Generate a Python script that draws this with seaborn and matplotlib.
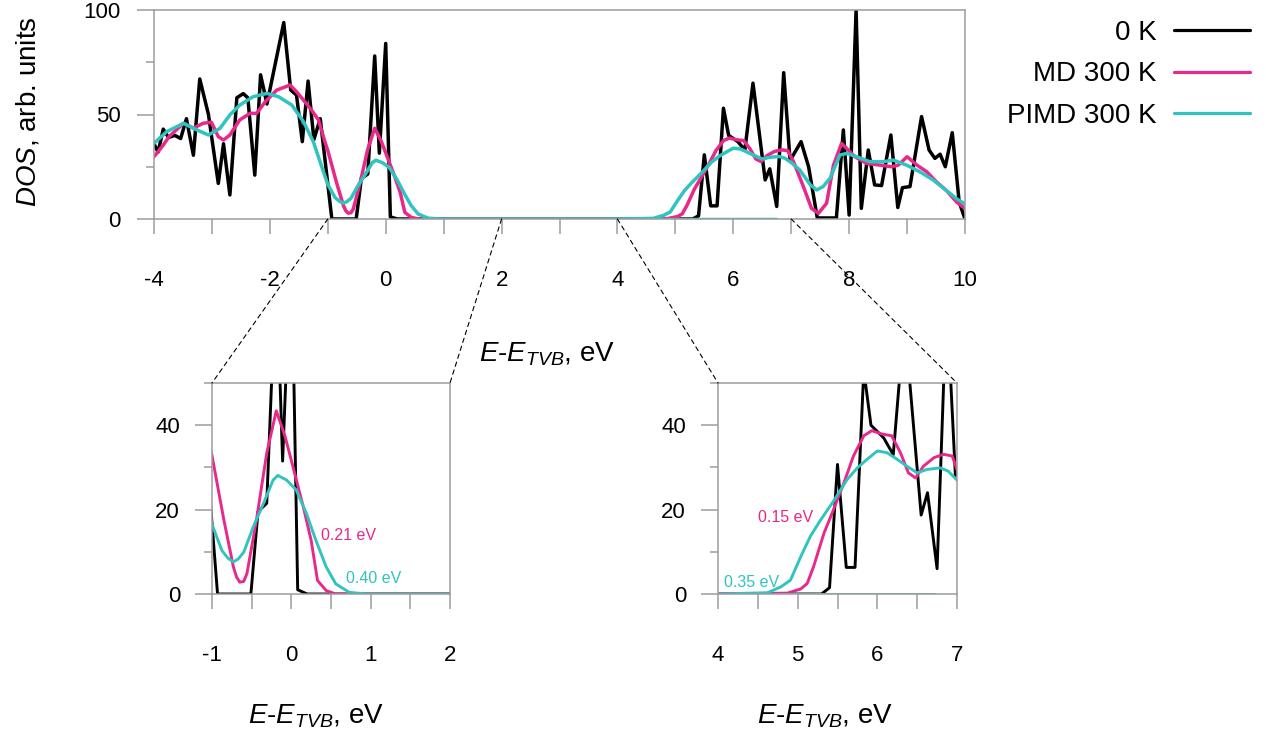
import matplotlib
matplotlib.use("Agg")
import matplotlib.pyplot as plt
import seaborn as sns
from matplotlib.patches import ConnectionPatch
from matplotlib.ticker import MultipleLocator

# ---- density of states, E - E_TVB (eV) vs DOS (arb. units) ----
e_0k = [-4.00, -3.93, -3.84, -3.75, -3.64, -3.54, -3.44, -3.32, -3.21, -3.06,
        -2.89, -2.80, -2.69, -2.57, -2.46, -2.38, -2.26, -2.16, -2.05, -1.76,
        -1.64, -1.54, -1.44, -1.34, -1.24, -1.13, -0.93, -0.51, -0.42, -0.31,
        -0.19, -0.11, 0.00, 0.08, 0.20, 5.30, 5.40, 5.50, 5.61, 5.72,
        5.83, 5.92, 6.08, 6.20, 6.34, 6.55, 6.63, 6.75, 6.87, 6.98,
        7.17, 7.30, 7.45, 7.78, 7.90, 8.00, 8.12, 8.21, 8.33, 8.44,
        8.56, 8.72, 8.84, 8.92, 9.05, 9.25, 9.38, 9.48, 9.57, 9.66,
        9.78, 9.90, 10.00]
dos_0k = [36, 32, 43, 39, 40, 38.5, 48, 30.5, 67, 50,
          17, 36, 11.5, 58, 60, 58, 21, 69, 55, 94,
          61.7, 59.3, 37, 66, 38, 48, 0, 0, 19.5, 21.5,
          78, 31.5, 84, 1, 0, 0, 1.5, 30.7, 6.3, 6.3,
          53, 40, 37, 33, 65, 18.7, 24, 6, 70, 28,
          37, 25, 0.5, 0.5, 42.6, 1.9, 100, 5.1, 33, 16.3,
          16, 40.2, 5.5, 15, 15.5, 49, 33, 29, 31, 25,
          41.3, 8, 0]

e_md = [-4.00, -3.85, -3.74, -3.60, -3.49, -3.32, -3.15, -3.01, -2.89, -2.80,
        -2.69, -2.52, -2.34, -2.23, -2.08, -1.88, -1.65, -1.54, -1.42, -1.28,
        -1.16, -1.05, -1.00, -0.85, -0.73, -0.69, -0.65, -0.60, -0.56, -0.44,
        -0.31, -0.19, -0.08, 0.02, 0.15, 0.25, 0.33, 0.44, 0.56, 1.0,
        2.0, 3.0, 4.0, 4.87, 5.04, 5.12, 5.20, 5.33, 5.45, 5.58,
        5.70, 5.83, 5.93, 6.06, 6.18, 6.29, 6.39, 6.48, 6.58, 6.71,
        6.83, 6.94, 7.04, 7.21, 7.35, 7.47, 7.61, 7.73, 7.87, 8.10,
        8.30, 8.53, 8.73, 8.85, 9.00, 9.17, 9.34, 9.51, 9.68, 9.86,
        10.00]
dos_md = [29.8, 35, 39.4, 43, 45.8, 43.5, 45.8, 46.3, 39.4, 37.8,
          40.2, 47.4, 50.6, 50.5, 56.1, 61.7, 64.1, 60.9, 56.9, 52.1,
          47.4, 37, 32.8, 17.5, 6.4, 4.0, 2.8, 3.0, 4.8, 17.5,
          33.4, 43.4, 37.4, 30.2, 20.7, 12.7, 3.2, 0.8, 0, 0,
          0, 0, 0, 0.2, 1.2, 2.5, 6.5, 14.4, 20, 26.3,
          32.7, 37.5, 38.7, 37.9, 37.5, 33.5, 28.7, 27.5, 30.3, 32.3,
          33.1, 32.7, 27.4, 15.5, 5.1, 2.7, 7.5, 25.8, 36.2, 29.8,
          26.6, 25.8, 25, 25.8, 29.8, 25.8, 22.6, 17.7, 13.6, 8,
          5]

e_pimd = [-4.00, -3.78, -3.49, -3.26, -3.06, -2.86, -2.69, -2.52, -2.29, -2.05,
          -1.85, -1.62, -1.42, -1.25, -1.08, -1.00, -0.875, -0.80, -0.73, -0.67,
          -0.60, -0.48, -0.35, -0.23, -0.17, -0.06, 0.06, 0.19, 0.31, 0.44,
          0.56, 0.73, 0.94, 2.0, 3.0, 4.0, 4.62, 4.79, 4.91, 5.04,
          5.16, 5.29, 5.45, 5.62, 5.75, 5.87, 6.00, 6.12, 6.25, 6.37,
          6.50, 6.62, 6.79, 6.89, 7.00, 7.15, 7.33, 7.44, 7.55, 7.67,
          7.84, 7.96, 8.13, 8.36, 8.59, 8.76, 8.99, 9.22, 9.45, 9.68,
          9.86, 10.00]
dos_pimd = [36.2, 41.8, 45.8, 42.6, 40.2, 43.4, 49.8, 54.5, 58.5, 60.1,
            58.5, 54.5, 46.6, 37, 23, 16.5, 10.3, 8.5, 7.6, 8.3,
            9.9, 15.9, 21.5, 27, 28.1, 27, 24.7, 19.1, 12.7, 6.4,
            2.4, 0.4, 0, 0, 0, 0, 0.3, 1.7, 3.3, 8.9,
            13.7, 17.6, 22, 27.1, 29.9, 31.9, 33.9, 33.5, 31.9, 30.3,
            28.7, 29.5, 29.9, 29.1, 27, 23.4, 16.3, 13.9, 15.5, 19.5,
            30.6, 31.4, 29.8, 27.4, 27.4, 28.2, 25.8, 22.6, 18.7, 13.6,
            9.6, 7.2]

# zero-level trace of the PIMD run inside the gap
e_pimd_gap = [1.0, 6.73]
dos_pimd_gap = [0, 0]

series_labels = ["0 K", "MD 300 K", "PIMD 300 K"]

# gap-edge widths written next to the curves in the zoomed panels
gap_notes_left = [("0.21 eV", 0.38, 13.9, "md"), ("0.40 eV", 0.69, 3.7, "pimd")]
gap_notes_right = [("0.15 eV", 4.50, 18.2, "md"), ("0.35 eV", 4.08, 2.8, "pimd")]

BLACK = "#000000"
PINK = "#e8288a"
TEAL = "#30c3bf"
FRAME = "#9c9c9c"

sns.set_theme(style="white")
plt.rcParams["font.family"] = ["Liberation Sans", "DejaVu Sans"]
plt.rcParams["mathtext.fontset"] = "custom"
plt.rcParams["mathtext.rm"] = "Liberation Sans"
plt.rcParams["mathtext.it"] = "Liberation Sans:italic"
plt.rcParams["mathtext.sf"] = "Liberation Sans"
plt.rcParams["axes.unicode_minus"] = False
plt.rcParams["text.color"] = "black"
plt.rcParams["legend.labelcolor"] = "black"

W, H = 1266, 731
fig = plt.figure(figsize=(W / 100, H / 100), dpi=100)


def px_axes(left, top, right, bottom):
    return fig.add_axes([left / W, 1 - bottom / H, (right - left) / W, (bottom - top) / H])


ax_main = px_axes(154, 10, 965, 219)
ax_lo = px_axes(212, 383, 450, 594)
ax_hi = px_axes(718, 383, 957, 594)


def draw_curves(ax, lw, labels=False):
    kw = dict(ax=ax, estimator=None, sort=False, legend=False)
    sns.lineplot(x=e_0k, y=dos_0k, color=BLACK, lw=lw,
                 label=series_labels[0] if labels else None, **kw)
    sns.lineplot(x=e_md, y=dos_md, color=PINK, lw=lw,
                 label=series_labels[1] if labels else None, **kw)
    sns.lineplot(x=e_pimd, y=dos_pimd, color=TEAL, lw=lw,
                 label=series_labels[2] if labels else None, **kw)
    sns.lineplot(x=e_pimd_gap, y=dos_pimd_gap, color=TEAL, lw=lw, **kw)


def style_axes(ax, xlim, ylim, xmajor, xminor, ymajor, yminor, xpad, ypad):
    ax.set_xlim(*xlim)
    ax.set_ylim(*ylim)
    ax.xaxis.set_major_locator(MultipleLocator(xmajor))
    ax.xaxis.set_minor_locator(MultipleLocator(xminor))
    ax.yaxis.set_major_locator(MultipleLocator(ymajor))
    ax.yaxis.set_minor_locator(MultipleLocator(yminor))
    for sp in ax.spines.values():
        sp.set_visible(True)
        sp.set_color(FRAME)
        sp.set_linewidth(1.1)
    ax.tick_params(axis="both", which="both", direction="out", color=FRAME,
                   width=1.1, labelcolor="black", labelsize=16)
    ax.tick_params(axis="x", which="both", length=10.5, pad=xpad, bottom=True)
    ax.tick_params(axis="y", which="major", length=12, pad=ypad, left=True)
    ax.tick_params(axis="y", which="minor", length=6, left=True)
    ax.set_xlabel("")
    ax.set_ylabel("")
    ax.grid(False)
    ax.set_facecolor("white")


draw_curves(ax_main, 2.5, labels=True)
draw_curves(ax_lo, 2.1)
draw_curves(ax_hi, 2.1)

style_axes(ax_main, (-4, 10), (0, 100), 2, 1, 50, 25, 26, 12)
style_axes(ax_lo, (-1, 2), (0, 50), 1, 0.5, 20, 10, 26, 11)
style_axes(ax_hi, (4, 7), (0, 50), 1, 0.5, 20, 10, 26, 11)

for ax, notes in ((ax_lo, gap_notes_left), (ax_hi, gap_notes_right)):
    for txt, x, y, kind in notes:
        ax.text(x, y, txt, color=PINK if kind == "md" else TEAL, fontsize=11.5,
                ha="left", va="center")

# dashed guides from the zoom windows on the main axis to the panels
for ax_in in (ax_lo, ax_hi):
    x0, x1 = ax_in.get_xlim()
    for x in (x0, x1):
        con = ConnectionPatch(xyA=(x, 0), coordsA=ax_main.transData,
                              xyB=(x, 50), coordsB=ax_in.transData,
                              color="black", lw=0.8, linestyle=(0, (4, 3.5)))
        fig.add_artist(con)

xlabel = r"$\mathit{E}$-$\mathit{E}_{\mathit{TVB}}$, eV"
fig.text(547 / W, 1 - 362 / H, xlabel, fontsize=20, ha="center", va="baseline")
fig.text(316 / W, 1 - 723 / H, xlabel, fontsize=20, ha="center", va="baseline")
fig.text(825 / W, 1 - 723 / H, xlabel, fontsize=20, ha="center", va="baseline")
fig.text(28 / W, 1 - 112 / H, r"$\mathit{DOS}$, arb. units", fontsize=20,
         rotation=90, ha="center", va="center")

handles, labels = ax_main.get_legend_handles_labels()
leg = fig.legend(handles, labels, loc="upper right",
                 bbox_to_anchor=(1250 / W, 1 - 20 / H), frameon=False,
                 markerfirst=False, fontsize=20, handlelength=2.75,
                 handletextpad=0.6, labelspacing=0.55, borderpad=0,
                 borderaxespad=0)
for ln in leg.get_lines():
    ln.set_linewidth(2.3)
for t in leg.get_texts():
    t.set_color("black")

fig.savefig("out.png", dpi=100, facecolor="white")
